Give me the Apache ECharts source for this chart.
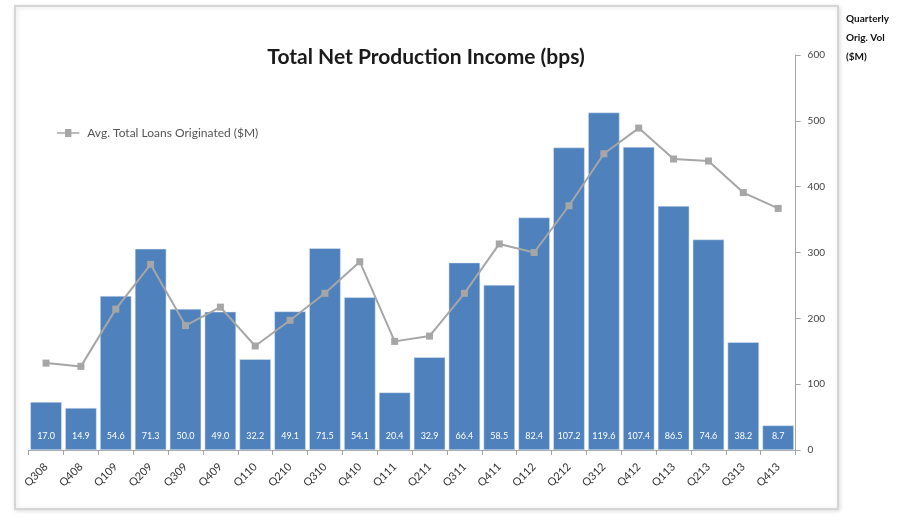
<!DOCTYPE html>
<html>
<head>
<meta charset="utf-8">
<style>
  html, body { margin: 0; padding: 0; background: #ffffff; }
  #chart { width: 919px; height: 516px; }
</style>
<script src="https://cdn.jsdelivr.net/npm/echarts@6/dist/echarts.min.js"></script>
</head>
<body>
<div id="chart"></div>
<script>
// Quarters shown on the category axis
const quarters = ['Q308','Q408','Q109','Q209','Q309','Q409','Q110','Q210','Q310','Q410',
                  'Q111','Q211','Q311','Q411','Q112','Q212','Q312','Q412','Q113','Q213','Q313','Q413'];

// Total net production income, basis points (bars, hidden left scale)
const netIncomeBps = [17.0, 14.9, 54.6, 71.3, 50.0, 49.0, 32.2, 49.1, 71.5, 54.1,
                      20.4, 32.9, 66.4, 58.5, 82.4, 107.2, 119.6, 107.4, 86.5, 74.6, 38.2, 8.7];

// Average total loans originated, $M (line, right scale)
const avgLoansOriginated = [132, 127, 214, 282, 189, 217, 158, 197, 238, 286,
                            165, 173, 238, 313, 300, 371, 450, 489, 442, 439, 391, 367];

// Right axis tick labels
const volumeTicks = [0, 100, 200, 300, 400, 500, 600];

const FONT = 'Lato, "Open Sans", "DejaVu Sans", sans-serif';
const chart = echarts.init(document.getElementById('chart'), null, { renderer: 'canvas' });

chart.setOption({
  backgroundColor: '#ffffff',
  animation: false,
  textStyle: { fontFamily: FONT },
  title: {
    text: 'Total Net Production Income (bps)',
    left: 421,
    top: 42,
    textAlign: 'center',
    textStyle: { fontFamily: FONT, fontSize: 21, fontWeight: 'bold', color: '#1a1a1a' }
  },
  graphic: [
    {
      type: 'rect',
      z: -10,
      shape: { x: 15, y: 6, width: 823, height: 503 },
      style: {
        fill: '#ffffff',
        stroke: '#d6d6d6',
        lineWidth: 2,
        shadowColor: 'rgba(0,0,0,0.12)',
        shadowBlur: 4,
        shadowOffsetX: 1,
        shadowOffsetY: 1
      }
    },
    {
      type: 'text',
      left: 846,
      top: 9,
      style: {
        text: 'Quarterly\nOrig. Vol\n($M)',
        fontFamily: FONT,
        fontSize: 10,
        fontWeight: 'bold',
        lineHeight: 19,
        fill: '#111111',
        align: 'center',
        x: 23
      }
    }
  ],
  legend: {
    data: [{ name: 'Avg. Total Loans Originated ($M)', icon: 'path://M0,4 L10,4 L10,0 L18,0 L18,4 L28,4 L28,6 L18,6 L18,10 L10,10 L10,6 L0,6 Z' }],
    left: 52,
    top: 122,
    itemWidth: 28,
    itemHeight: 8,
    itemGap: 4,
    textStyle: { fontFamily: FONT, fontSize: 12, color: '#555555' }
  },
  grid: { left: 28.6, right: 123.4, top: 55, bottom: 66, containLabel: false },
  xAxis: {
    type: 'category',
    data: quarters,
    boundaryGap: true,
    axisLine: { show: true, lineStyle: { color: '#a6a6a6', width: 1 } },
    axisTick: { show: true, alignWithLabel: false, length: 5, lineStyle: { color: '#a6a6a6' } },
    axisLabel: {
      interval: 0,
      rotate: 45,
      margin: 15,
      fontFamily: FONT,
      fontSize: 11,
      color: '#333333'
    }
  },
  yAxis: [
    {
      type: 'value',
      min: 0,
      max: 140,
      show: false,
      splitLine: { show: false }
    },
    {
      type: 'value',
      position: 'right',
      min: volumeTicks[0],
      max: volumeTicks[volumeTicks.length - 1],
      interval: 100,
      axisLine: { show: true, lineStyle: { color: '#a6a6a6' } },
      axisTick: { show: true, length: 5, lineStyle: { color: '#a6a6a6' } },
      splitLine: { show: false },
      axisLabel: { margin: 12, fontFamily: FONT, fontSize: 10, color: '#444444' }
    }
  ],
  series: [
    {
      name: 'Total Net Production Income (bps)',
      type: 'bar',
      yAxisIndex: 0,
      data: netIncomeBps,
      barCategoryGap: '10%',
      itemStyle: { color: '#4f81bd', borderColor: '#dfe9f5', borderWidth: 0.5 },
      label: {
        show: true,
        position: 'insideBottom',
        distance: 9,
        formatter: p => p.value.toFixed(1),
        fontFamily: FONT,
        fontSize: 9,
        color: '#ffffff'
      },
      z: 2
    },
    {
      name: 'Avg. Total Loans Originated ($M)',
      type: 'line',
      yAxisIndex: 1,
      data: avgLoansOriginated,
      symbol: 'rect',
      symbolSize: 7,
      lineStyle: { color: '#a6a6a6', width: 2 },
      itemStyle: { color: '#a6a6a6' },
      z: 3
    }
  ]
});
</script>
</body>
</html>
